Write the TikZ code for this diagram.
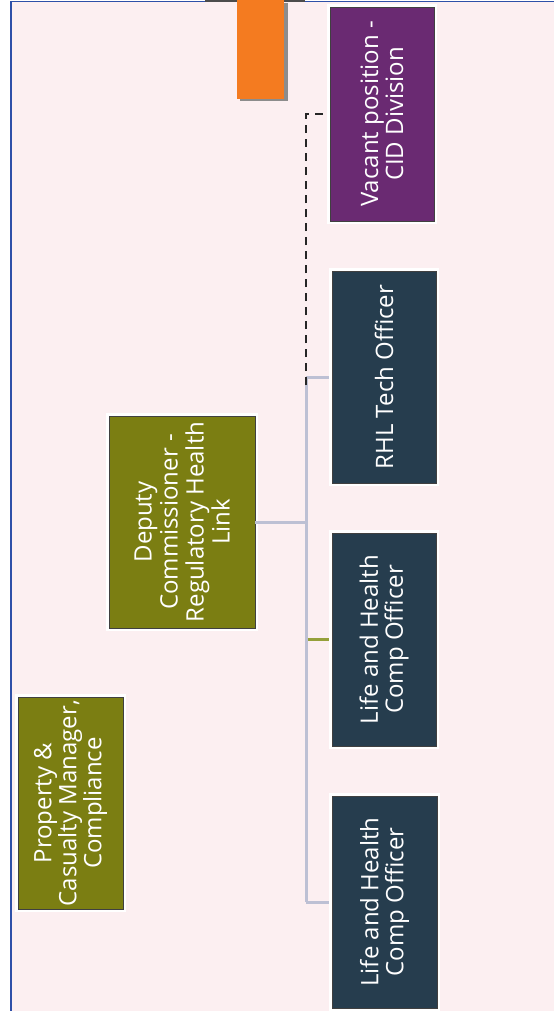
\documentclass[tikz,border=0pt]{standalone}
\usepackage{fontspec}
\setmainfont{Open Sans}
\definecolor{bgpink}{HTML}{FCEFF1}
\definecolor{framebl}{HTML}{2E50A8}
\definecolor{olivebx}{HTML}{7B7E12}
\definecolor{navybx}{HTML}{263D4E}
\definecolor{purplebx}{HTML}{6A2A72}
\definecolor{orangebx}{HTML}{F47B20}
\definecolor{busgrey}{HTML}{BDC0D4}
\definecolor{stubgreen}{HTML}{95A03A}
\tikzset{
  orgbox/.style={rectangle, draw=black!75, line width=0.6pt, inner sep=0pt,
    preaction={draw=white, line width=6pt}},
  orgtxt/.style={text=white, rotate=90, align=center, inner sep=0pt,
    font=\fontsize{24}{25}\selectfont},
  busline/.style={draw=busgrey, line width=3pt},
  dashline/.style={draw=black!85, line width=2.5pt, dash pattern=on 8pt off 6pt}
}
\begin{document}
\begin{tikzpicture}[x=1pt,y=-1pt]
\useasboundingbox (0,0) rectangle (554,1011);
\fill[white] (0,0) rectangle (554,1011);
\fill[bgpink] (11,1.5) rectangle (554,1011);
\draw[framebl, line width=1.5pt] (11,1011) -- (11,1.5) -- (554,1.5);
% top strip and orange tab
\fill[black!70] (205,0) rectangle (305,2.5);
\fill[black!45] (240,3) rectangle (288,101);
\node[rectangle, fill=orangebx, inner sep=0pt, minimum width=47pt, minimum height=99pt, anchor=north west] (tab) at (237,0) {};
% boxes
\node[orgbox, fill=purplebx, minimum width=104pt, minimum height=214pt] (vac) at (382,114) {};
\node[orgbox, fill=navybx, minimum width=104pt, minimum height=212pt] (rhl) at (384,377) {};
\node[orgbox, fill=navybx, minimum width=104pt, minimum height=213pt] (lh1) at (384,639.5) {};
\node[orgbox, fill=navybx, minimum width=105pt, minimum height=212pt] (lh2) at (384.5,902) {};
\node[orgbox, fill=olivebx, minimum width=146pt, minimum height=212pt] (dep) at (182,522) {};
\node[orgbox, fill=olivebx, minimum width=105pt, minimum height=212pt] (pc) at (70.5,803) {};
% texts
\node[orgtxt] at (vac) {Vacant position -\\CID Division};
\node[orgtxt] at (rhl) {RHL Tech Officer};
\node[orgtxt] at (lh1) {Life and Health\\Comp Officer};
\node[orgtxt] at (lh2) {Life and Health\\Comp Officer};
\node[orgtxt, font=\fontsize{24}{26}\selectfont] at (dep) {Deputy\\Commissioner -\\Regulatory Health\\Link};
\node[orgtxt] at (pc) {Property \&\\Casualty Manager,\\Compliance};
% connectors
\coordinate (busx) at (306,0);
\draw[busline] (dep.east) -- (dep.east -| busx);
\draw[busline] (rhl.west -| busx) -- (lh2.west -| busx);
\draw[busline] (rhl.west -| busx) -- ([xshift=-3pt]rhl.west);
\draw[busline] (lh2.west -| busx) -- ([xshift=-3pt]lh2.west);
\draw[draw=stubgreen, line width=3pt] ([xshift=1.5pt]lh1.west -| busx) -- ([xshift=-3pt]lh1.west);
\draw[dashline] ([yshift=-8pt]rhl.west -| busx) -- (vac.west -| busx) -- ([xshift=-3pt]vac.west);
\end{tikzpicture}
\end{document}
